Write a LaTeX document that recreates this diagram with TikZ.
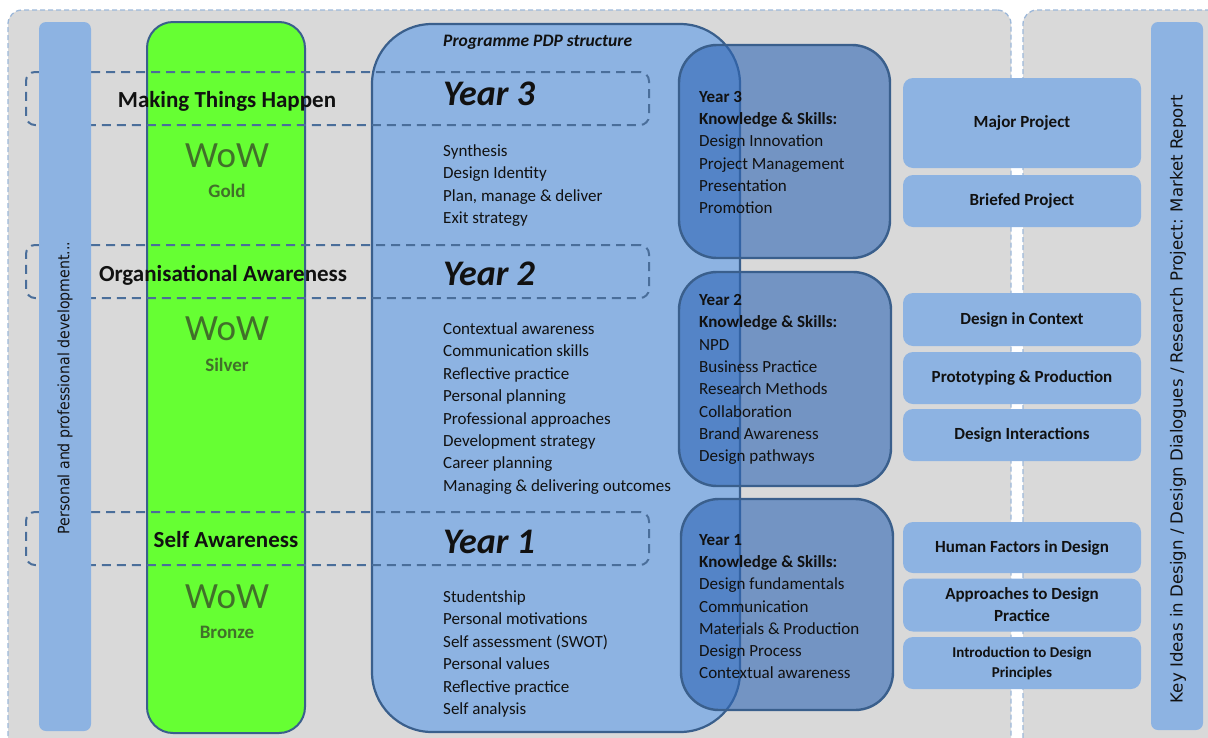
\documentclass[tikz,border=0pt]{standalone}
\usepackage{fontspec}
\setmainfont{Carlito}
\newfontfamily\vfont{DejaVu Sans Condensed}
\newfontfamily\vwfont{DejaVu Sans}
\definecolor{panelgray}{HTML}{D9D9D9}
\definecolor{panelborder}{HTML}{9DB8D9}
\definecolor{barblue}{HTML}{8DB3E2}
\definecolor{wowgreen}{HTML}{66FF33}
\definecolor{outline}{HTML}{3A5F8C}
\definecolor{bandline}{HTML}{4A6E9A}
\definecolor{wowtext}{HTML}{41702A}
\definecolor{yearfill}{HTML}{2F66B5}
\definecolor{txt}{HTML}{111111}
\begin{document}
\begin{tikzpicture}[x=1pt,y=-1pt,
  box/.style={shape=rectangle, inner sep=0pt, outer sep=0pt},
  panel/.style={box, fill=panelgray, draw=panelborder, dash pattern=on 5pt off 3pt, line width=1.3pt, rounded corners=14pt},
  vbar/.style={box, fill=barblue, rounded corners=7pt},
  greenbar/.style={box, fill=wowgreen, draw=outline, line width=2pt, rounded corners=26pt},
  progbox/.style={box, fill=barblue, draw=outline, line width=2.2pt, rounded corners=60pt},
  band/.style={box, draw=bandline, line width=2pt, dash pattern=on 9pt off 6pt, rounded corners=9pt},
  yearbox/.style={box, fill=yearfill, fill opacity=0.6, text opacity=1, draw=outline, line width=2.4pt, rounded corners=38pt},
  module/.style={box, fill=barblue, rounded corners=10pt, font=\fontsize{17}{20}\selectfont\bfseries, text=txt, align=center},
  item/.style={anchor=base west, inner sep=0pt, font=\fontsize{17}{20}\selectfont, text=txt},
  bitem/.style={item, font=\fontsize{17}{20}\selectfont\bfseries},
  bigyear/.style={anchor=base west, inner sep=0pt, font=\fontsize{36}{40}\selectfont\bfseries\itshape, text=txt},
  bandlabel/.style={anchor=base, inner sep=0pt, font=\fontsize{23}{26}\selectfont\bfseries, text=txt},
  wow/.style={anchor=base, inner sep=0pt, font=\fontsize{37}{40}\selectfont, text=wowtext},
  medal/.style={anchor=base, inner sep=0pt, font=\fontsize{19}{22}\selectfont\bfseries, text=wowtext},
  vtext/.style={rotate=90, inner sep=0pt, text=txt}
]
\useasboundingbox (0,0) rectangle (1208,737);
\clip (0,0) rectangle (1208,737);
% panels
\node[panel, minimum width=1003pt, minimum height=760pt] (lpanel) at (509.5,390) {};
\node[panel, minimum width=217pt, minimum height=760pt] (rpanel) at (1131.5,390) {};
% green bar
\node[greenbar, minimum width=158pt, minimum height=711pt] (green) at (226,377.5) {};
% programme box
\node[progbox, minimum width=368pt, minimum height=708pt] (prog) at (556,378) {};
% bands
\node[band, minimum width=623pt, minimum height=53pt] (band3) at (337.5,98.5) {};
\node[band, minimum width=623pt, minimum height=53pt] (band2) at (337.5,271.5) {};
\node[band, minimum width=623pt, minimum height=53pt] (band1) at (337.5,538.5) {};
% vertical bars
\node[vbar, minimum width=52pt, minimum height=709pt] (lbar) at (65,376.5) {};
\node[vbar, minimum width=52pt, minimum height=708pt] (rbar) at (1177,376) {};
\node[vtext, font=\vfont\fontsize{15.7}{18}\selectfont] (ltext) at (65,388) {Personal and professional development...};
\node[vtext, font=\vwfont\fontsize{16.6}{19}\selectfont] (rtext) at (1178,399) {Key Ideas in Design / Design Dialogues / Research Project: Market Report};
% year boxes
\node[yearbox, minimum width=211pt, minimum height=213pt] (ks3) at (784.5,151.5) {};
\node[yearbox, minimum width=212pt, minimum height=214pt] (ks2) at (785,379) {};
\node[yearbox, minimum width=212pt, minimum height=211pt] (ks1) at (787,604.5) {};
% modules
\node[module, minimum width=238pt, minimum height=90pt] (m1) at (1022,123) {Major Project};
\node[module, minimum width=238pt, minimum height=52pt] (m2) at (1022,201) {Briefed Project};
\node[module, minimum width=238pt, minimum height=53pt] (m3) at (1022,319.5) {Design in Context};
\node[module, minimum width=238pt, minimum height=52pt] (m4) at (1022,378) {Prototyping \& Production};
\node[module, minimum width=238pt, minimum height=52pt] (m5) at (1022,435) {Design Interactions};
\node[module, minimum width=238pt, minimum height=51pt] (m6) at (1022,547.5) {Human Factors in Design};
\node[module, minimum width=238pt, minimum height=53pt, font=\fontsize{17}{22}\selectfont\bfseries] (m7) at (1022,605) {Approaches to Design\\Practice};
\node[module, minimum width=238pt, minimum height=52pt, font=\fontsize{15}{20}\selectfont\bfseries] (m8) at (1022,663) {Introduction to Design\\Principles};
% band labels
\node[bandlabel] (lab3) at (227,107) {Making Things Happen};
\node[bandlabel] (lab2) at (223,281) {Organisational Awareness};
\node[bandlabel] (lab1) at (226,547) {Self Awareness};
% WoW
\node[wow] (wow3) at (227,167) {WoW};
\node[medal] (gold) at (227,197) {Gold};
\node[wow] (wow2) at (227,340) {WoW};
\node[medal] (silver) at (227,371) {Silver};
\node[wow] (wow1) at (227,608) {WoW};
\node[medal] (bronze) at (227,638) {Bronze};
% programme
\node[anchor=base west, inner sep=0pt, font=\fontsize{17.5}{20}\selectfont\bfseries\itshape, text=txt] (progtitle) at (443,46) {Programme PDP structure};
\node[bigyear] (y3) at (443,105) {Year 3};
\node[bigyear] (y2) at (443,285) {Year 2};
\node[bigyear] (y1) at (443,553) {Year 1};
\foreach \t [count=\i] in {Synthesis, Design Identity, {Plan, manage \& deliver}, Exit strategy}
  \node[item] (a\i) at (443,{156.5+22.4*(\i-1)}) {\t};
\foreach \t [count=\i] in {Contextual awareness, Communication skills, Reflective practice, Personal planning, Professional approaches, Development strategy, Career planning, Managing \& delivering outcomes}
  \node[item] (b\i) at (443,{334.5+22.4*(\i-1)}) {\t};
\foreach \t [count=\i] in {Studentship, Personal motivations, Self assessment (SWOT), Personal values, Reflective practice, Self analysis}
  \node[item] (c\i) at (443,{602.5+22.4*(\i-1)}) {\t};
% knowledge & skills
\node[bitem] (k3a) at (699,102.5) {Year 3};
\node[bitem] (k3b) at (699,124.7) {Knowledge \& Skills:};
\foreach \t [count=\i] in {Design Innovation, Project Management, Presentation, Promotion}
  \node[item] (k3\i) at (699,{146.9+22.2*(\i-1)}) {\t};
\node[bitem] (k2a) at (699,305.5) {Year 2};
\node[bitem] (k2b) at (699,327.8) {Knowledge \& Skills:};
\foreach \t [count=\i] in {NPD, Business Practice, Research Methods, Collaboration, Brand Awareness, Design pathways}
  \node[item] (k2\i) at (699,{350.1+22.3*(\i-1)}) {\t};
\node[bitem] (k1a) at (699,545.5) {Year 1};
\node[bitem] (k1b) at (699,567.7) {Knowledge \& Skills:};
\foreach \t [count=\i] in {Design fundamentals, Communication, Materials \& Production, Design Process, Contextual awareness}
  \node[item] (k1\i) at (699,{589.9+22.2*(\i-1)}) {\t};
\end{tikzpicture}
\end{document}
